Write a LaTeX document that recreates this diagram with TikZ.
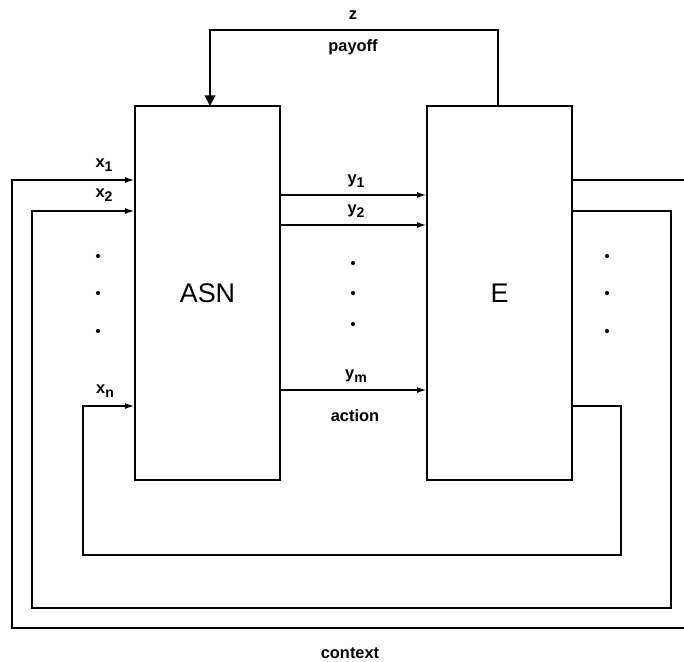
\documentclass[tikz,border=0pt]{standalone}
\usepackage{fontspec}
\setmainfont{Liberation Sans}
\usetikzlibrary{arrows.meta,positioning}
\newcommand{\lowidx}[1]{\raisebox{-0.5ex}{\fontsize{12}{14}\selectfont #1}}

\tikzset{
  block/.style={draw,line width=2.5pt,minimum width=4.35cm,minimum height=11.22cm,
    inner sep=0pt,outer sep=0pt,font=\fontsize{23}{26}\selectfont},
  wire/.style={line width=1.7pt},
  lbl/.style={font=\fontsize{14}{17}\selectfont\bfseries,inner sep=1pt},
  vdot/.style={circle,fill,inner sep=0pt,minimum size=3.5pt},
}

\begin{document}
\begin{tikzpicture}[x=0.03cm,y=-0.03cm,>={Latex[length=3mm,width=1.8mm]}]
  \useasboundingbox (0,0) rectangle (684,661);
  % the two blocks
  \node[block] (asn) at (207.5,293) {ASN};
  \node[block,right=4.41cm of asn] (e) {E};
  % payoff feedback
  \draw[wire,-{Triangle[length=3.2mm,width=3.2mm]}] (e.north -| 498,0) -- (498,30) -- (210,30) -- (asn.north -| 210,0);
  \node[lbl] (z) at (353,15) {z};
  \node[lbl] (payoff) at (353,47) {payoff};
  % actions y1 .. ym
  \draw[wire,->] (asn.east |- 0,195) -- (e.west |- 0,195);
  \draw[wire,->] (asn.east |- 0,225) -- (e.west |- 0,225);
  \draw[wire,->] (asn.east |- 0,390) -- (e.west |- 0,390);
  \node[lbl] (y1) at (356,181) {y\lowidx{1}};
  \node[lbl] (y2) at (356,211) {y\lowidx{2}};
  \node[lbl] (ym) at (356,376) {y\lowidx{m}};
  \node[lbl] (action) at (355,416) {action};
  % context loops x1 .. xn
  \draw[wire,->] (e.east |- 0,180) -- (700,180) -- (700,628) -- (12,628) -- (12,180) -- (asn.west |- 0,180);
  \draw[wire,->] (e.east |- 0,211) -- (671,211) -- (671,608) -- (32,608) -- (32,211) -- (asn.west |- 0,211);
  \draw[wire,->] (e.east |- 0,406) -- (621,406) -- (621,555) -- (83,555) -- (83,406) -- (asn.west |- 0,406);
  \node[lbl] (x1) at (104,165) {x\lowidx{1}};
  \node[lbl] (x2) at (104,195) {x\lowidx{2}};
  \node[lbl] (xn) at (105,391) {x\lowidx{n}};
  \node[lbl] (context) at (350,653) {context};
  % dots
  \foreach \y in {256,293,331} {
    \node[vdot] at (98,\y) {};
    \node[vdot] at (607,\y) {};
  }
  \foreach \y in {263,293,324}
    \node[vdot] at (353,\y) {};
\end{tikzpicture}
\end{document}
